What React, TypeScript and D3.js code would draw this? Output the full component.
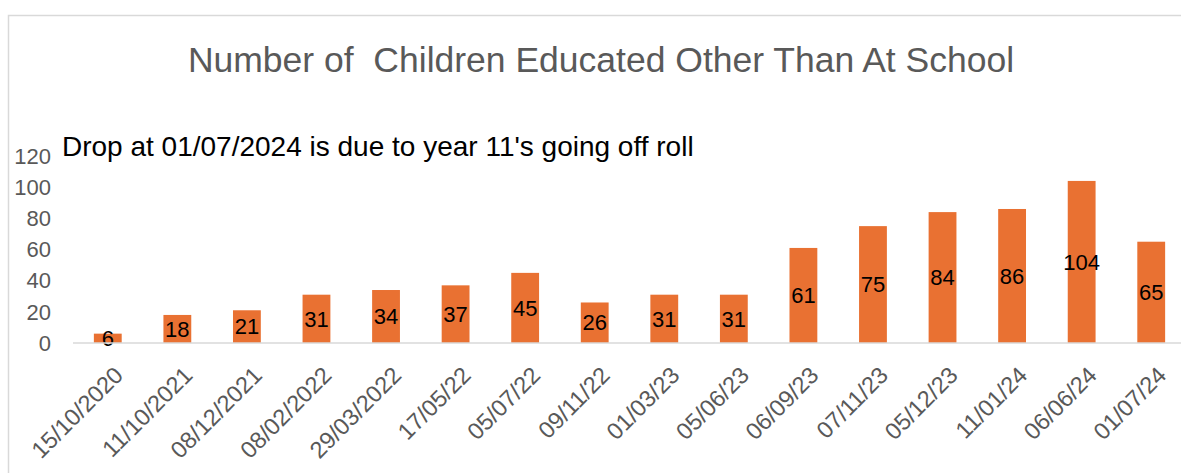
import React from "react";
import * as d3 from "d3";

const categories = ["15/10/2020","11/10/2021","08/12/2021","08/02/2022","29/03/2022","17/05/22","05/07/22","09/11/22","01/03/23","05/06/23","06/09/23","07/11/23","05/12/23","11/01/24","06/06/24","01/07/24"];
const values = [6,18,21,31,34,37,45,26,31,31,61,75,84,86,104,65];
const yTicks = [0,20,40,60,80,100,120];
const title = "Number of  Children Educated Other Than At School";
const note = "Drop at 01/07/2024 is due to year 11's going off roll";

const W = 1181, H = 473;
const FONT = "'Liberation Sans', Arial, sans-serif";

export default function App() {
  const x = d3.scaleBand<string>().domain(categories).range([73, 1186]).paddingInner(0.6).paddingOuter(0.3);
  const y = d3.scaleLinear().domain([0, 120]).range([343, 156]);
  return (
    <svg width={W} height={H} style={{ position: "absolute", left: 0, top: 0, background: "#fff" }} fontFamily={FONT}>
      <rect x={8.5} y={15.5} width={W + 10} height={H + 10} fill="#fff" stroke="#d9d9d9" strokeWidth={1.5} />
      <text x={601} y={72} textAnchor="middle" fontSize={35.5} fill="#595959" style={{ whiteSpace: "pre" }}>{title}</text>
      <text x={62} y={156} fontSize={28} fill="#000">{note}</text>
      {yTicks.map(t => (
        <text key={t} x={51} y={y(t)} dy="0.35em" textAnchor="end" fontSize={22} fill="#595959">{t}</text>
      ))}
      {categories.map((c, i) => {
        const bx = x(c)!;
        const bw = x.bandwidth();
        const v = values[i];
        const cx = bx + bw / 2;
        return (
          <g key={c}>
            <rect x={bx} y={y(v)} width={bw} height={y(0) - y(v)} fill="#E97132" />
            <text x={cx} y={(y(0) + y(v)) / 2} dy="0.35em" textAnchor="middle" fontSize={22} fill="#000">{v}</text>
            <text transform={`translate(${cx + 5},${365}) rotate(-45)`} dy="0.7em" textAnchor="end" fontSize={23.5} fill="#595959">{c}</text>
          </g>
        );
      })}
      <line x1={73} x2={W} y1={343} y2={343} stroke="#d9d9d9" strokeWidth={1.5} />
    </svg>
  );
}
